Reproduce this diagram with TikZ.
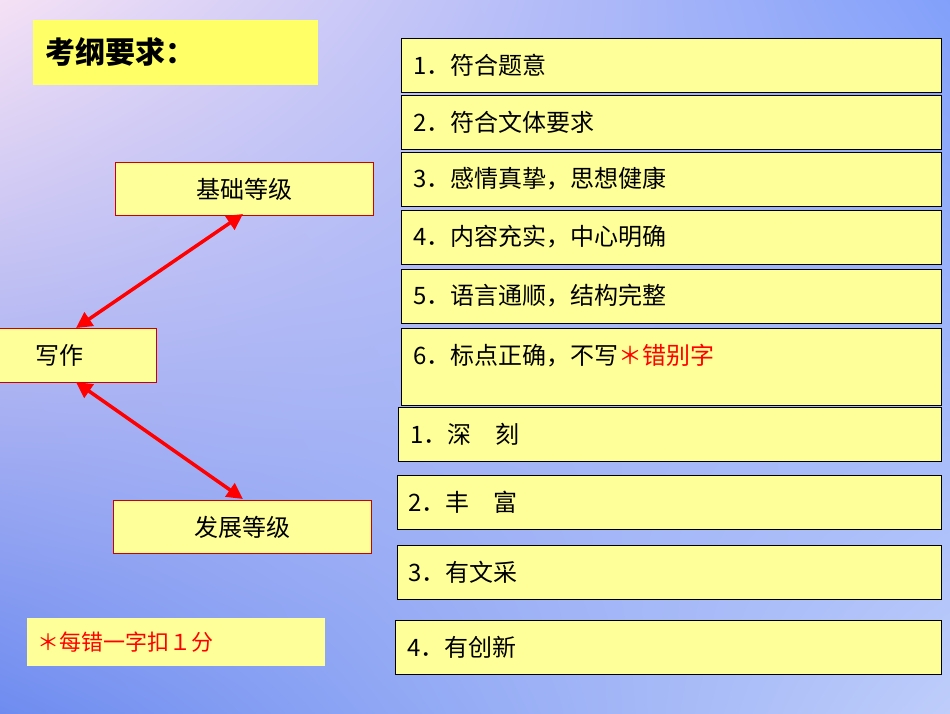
\documentclass[tikz,border=0pt]{standalone}
\usepackage{fontspec}
\setmainfont{Noto Sans CJK SC}
\usetikzlibrary{arrows.meta,shadings}
\definecolor{by}{HTML}{FFFF99}
\definecolor{ty}{HTML}{FFFF66}
\definecolor{cul}{RGB}{245,225,245}
\definecolor{cur}{RGB}{130,160,250}
\definecolor{cll}{RGB}{110,140,240}
\definecolor{clr}{RGB}{190,205,250}
\tikzset{
 rb/.style={draw=black,line width=0.8pt,fill=by,anchor=north west,inner sep=0pt},
 lb/.style={draw=red!80!black,line width=0.8pt,fill=by,anchor=north west,inner sep=0pt},
 tx/.style={anchor=west,font=\fontsize{24}{24}\selectfont},
 ar/.style={red,line width=3.5pt,{Triangle[length=16pt,width=16pt]}-{Triangle[length=16pt,width=16pt]}}
}
\begin{document}
\begin{tikzpicture}[x=1pt,y=-1pt]
\shade[upper left=cul,upper right=cur,lower left=cll,lower right=clr] (0,0) rectangle (950,713);
\useasboundingbox (0,0) rectangle (950,713);
\node[fill=ty,anchor=north west,minimum width=285pt,minimum height=65pt] (title) at (33,20) {};
\node[anchor=west,font=\fontsize{30}{30}\selectfont\bfseries] (tt) at (42,52) {考纲要求：};
\foreach \n/\y/\t in {a/38/1．符合题意, b/95/2．符合文体要求, c/152/3．感情真挚，思想健康, d/210/4．内容充实，中心明确, e/269/5．语言通顺，结构完整}{
 \node[rb,minimum width=540pt,minimum height=54pt] (\n) at (401,\y) {};
 \node[tx] (\n-t) at (410,\y+27) {\t};
}
\node[rb,minimum width=540pt,minimum height=77pt] (f) at (401,328) {};
\node[tx] (ft) at (410,356) {6．标点正确，不写{\color{red}＊错别字}};
\node[rb,minimum width=543pt,minimum height=54pt] (g) at (398,407) {};
\node[tx] (gt) at (407,434) {1．深\quad 刻};
\node[rb,minimum width=544pt,minimum height=54pt] (h) at (397,475) {};
\node[tx] (ht) at (405,502) {2．丰\quad 富};
\node[rb,minimum width=544pt,minimum height=54pt] (i) at (397,545) {};
\node[tx] (it) at (405,572) {3．有文采};
\node[rb,minimum width=546pt,minimum height=54pt] (j) at (395,620) {};
\node[tx] (jt) at (404,647) {4．有创新};
\node[lb,minimum width=258pt,minimum height=53pt,font=\fontsize{24}{24}\selectfont] (base) at (115,162) {基础等级};
\node[lb,minimum width=157pt,minimum height=54pt] (w) at (-1,328) {};
\node[tx] (wt) at (32,355) {写作};
\node[lb,minimum width=258pt,minimum height=53pt,font=\fontsize{24}{24}\selectfont] (dev) at (113,500) {发展等级};
\node[fill=by,anchor=north west,minimum width=298pt,minimum height=48pt] (note) at (27,618) {};
\node[anchor=west,red,font=\fontsize{22}{22}\selectfont] (nt) at (34,642) {＊每错一字扣１分};
\coordinate (w1) at (76,328); \coordinate (b1) at (243,214);
\coordinate (w2) at (76,382); \coordinate (d1) at (243,499);
\draw[ar] (w1) -- (b1);
\draw[ar] (w2) -- (d1);
\end{tikzpicture}
\end{document}
